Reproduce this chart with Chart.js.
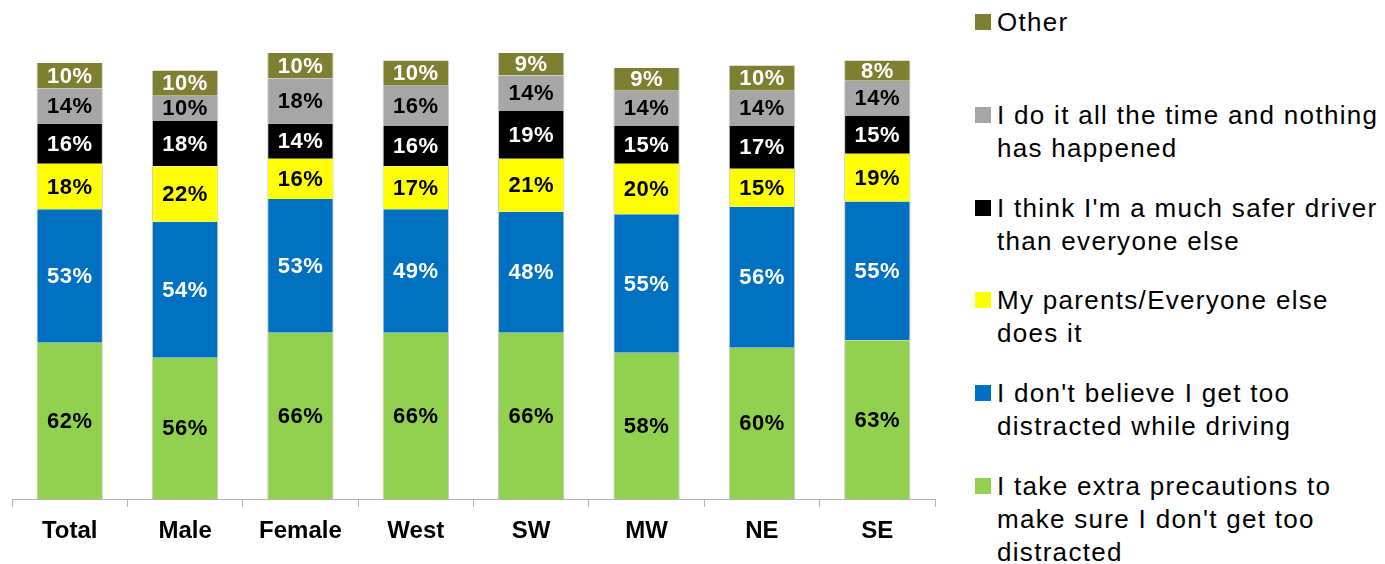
<!DOCTYPE html>
<html>
<head>
<meta charset="utf-8">
<script src="https://cdn.jsdelivr.net/npm/chart.js@4/dist/chart.umd.min.js"></script>
<style>
  html, body { margin: 0; padding: 0; background: #fff; }
  #wrap { position: relative; width: 1385px; height: 564px; overflow: hidden; }
  #chartBox { position: absolute; left: 0; top: 0; width: 945px; height: 564px; }
  .item { position: absolute; left: 997px; font-family: "Liberation Sans", Arial, sans-serif;
          font-size: 26px; line-height: 33px; letter-spacing: 1.3px; color: #000; white-space: nowrap; }
  .sw { position: absolute; left: -22px; top: 8px; width: 16px; height: 16px; }
</style>
</head>
<body>
<div id="wrap">
  <div id="chartBox"><canvas id="stackChart"></canvas></div>
  <div id="legend"></div>
</div>
<script>
const categories = ['Total', 'Male', 'Female', 'West', 'SW', 'MW', 'NE', 'SE'];

// bottom to top
const precautions = [62, 56, 66, 66, 66, 58, 60, 63];
const notDistracted = [53, 54, 53, 49, 48, 55, 56, 55];
const everyoneElse = [18, 22, 16, 17, 21, 20, 15, 19];
const saferDriver = [16, 18, 14, 16, 19, 15, 17, 15];
const nothingHappened = [14, 10, 18, 16, 14, 14, 14, 14];
const other = [10, 10, 10, 10, 9, 9, 10, 8];

const seriesNames = [
    'I take extra precautions to\nmake sure I don\'t get too\ndistracted',
    'I don\'t believe I get too\ndistracted while driving',
    'My parents/Everyone else\ndoes it',
    'I think I\'m a much safer driver\nthan everyone else',
    'I do it all the time and nothing\nhas happened',
    'Other'
];
const seriesData = [precautions, notDistracted, everyoneElse, saferDriver, nothingHappened, other];
const seriesColors = ['#92d050', '#0070c0', '#ffff00', '#000000', '#a6a6a6', '#7f7f31'];
const labelColors = ['#000', '#fff', '#000', '#fff', '#000', '#fff'];

// Percent labels in the middle of each segment
const segmentLabels = {
    id: 'segmentLabels',
    afterDatasetsDraw(chart) {
        const ctx = chart.ctx;
        ctx.save();
        ctx.font = 'bold 22px "Liberation Sans", Arial, sans-serif';
        if ('letterSpacing' in ctx) ctx.letterSpacing = '0.5px';
        ctx.textAlign = 'center';
        ctx.textBaseline = 'middle';
        chart.data.datasets.forEach((ds, i) => {
            const meta = chart.getDatasetMeta(i);
            ctx.fillStyle = labelColors[i];
            meta.data.forEach((bar, j) => {
                ctx.fillText(ds.data[j] + '%', bar.x, (bar.y + bar.base) / 2 + 1);
            });
        });
        ctx.restore();
    }
};

const ctx = document.getElementById('stackChart').getContext('2d');
new Chart(ctx, {
    type: 'bar',
    data: {
        labels: categories,
        datasets: seriesData.map((d, i) => ({
            label: seriesNames[i],
            data: d,
            backgroundColor: seriesColors[i],
            borderColor: '#c8c8c8',
            borderWidth: { left: 1, right: 1, top: 0, bottom: 0 },
            borderSkipped: false,
            categoryPercentage: 1,
            barPercentage: 0.575
        }))
    },
    options: {
        responsive: true,
        maintainAspectRatio: false,
        animation: false,
        layout: { padding: { left: 12, right: 10, top: 0, bottom: 0 } },
        plugins: {
            legend: { display: false },
            tooltip: { enabled: false }
        },
        scales: {
            x: {
                stacked: true,
                grid: { display: true, drawOnChartArea: false, drawTicks: true, tickLength: 8, color: '#b3b3b3' },
                border: { display: true, color: '#b3b3b3' },
                ticks: {
                    color: '#000',
                    padding: 10,
                    font: { family: '"Liberation Sans", Arial, sans-serif', size: 24, weight: 'bold' }
                },
                afterFit: s => { s.height = 65; }
            },
            y: {
                stacked: true,
                display: false,
                min: 0,
                max: 198
            }
        }
    },
    plugins: [segmentLabels]
});

// legend, top item first
const legendTops = [22, 115, 208, 300, 393, 486];
const legendEl = document.getElementById('legend');
for (let k = 0; k < 6; k++) {
    const i = 5 - k;
    const item = document.createElement('div');
    item.className = 'item';
    item.style.top = (legendTops[k] - 16.5) + 'px';
    const sw = document.createElement('span');
    sw.className = 'sw';
    sw.style.background = seriesColors[i];
    item.appendChild(sw);
    seriesNames[i].split('\n').forEach((line, n) => {
        if (n > 0) item.appendChild(document.createElement('br'));
        item.appendChild(document.createTextNode(line));
    });
    legendEl.appendChild(item);
}
</script>
</body>
</html>
